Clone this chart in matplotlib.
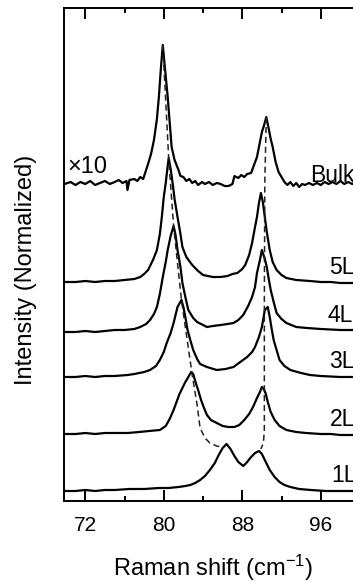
import numpy as np
import matplotlib
matplotlib.use("Agg")
from matplotlib import pyplot as plt
from matplotlib.ticker import MultipleLocator

plt.rcParams['font.family'] = ['Liberation Sans', 'DejaVu Sans']
plt.rcParams['mathtext.fontset'] = 'custom'
plt.rcParams['mathtext.rm'] = 'Liberation Sans'
plt.rcParams['mathtext.it'] = 'Liberation Sans:italic'

# spectra (heights in arbitrary units, x in cm-1)
names = ["1L", "2L", "3L", "4L", "5L", "Bulk"]
offsets = [0.10, 0.67, 1.24, 1.69, 2.19, 3.17]

x_1L = [69.9, 71, 72, 73, 74, 75, 76.5, 78, 79.5, 80.5, 81.5, 82.2, 82.7, 83.2, 83.7,
        84.2, 84.7, 85.2, 85.6, 86.0, 86.4, 86.8, 87.2, 87.6, 88.1, 88.5, 88.9, 89.3,
        89.7, 90.0, 90.4, 90.8, 91.3, 91.8, 92.3, 92.9, 93.8, 95, 96.5, 98, 100.5]
y_1L = [0, 0, 1, 0, 1, 1, 2, 2, 3, 3, 4, 5, 6, 8, 11,
        15, 21, 28, 36, 43, 47, 42, 35, 29, 25, 29, 34, 38,
        40, 37, 29, 21, 14, 9, 6, 4, 2, 1, 0, 0, 0]

x_2L = [69.9, 71, 72, 73, 74, 75, 76.3, 77.5, 78.5, 79.6, 80.2, 80.6, 81.0, 81.3, 81.6,
        81.9, 82.2, 82.5, 82.8, 83.0, 83.2, 83.5, 83.8, 84.1, 84.4, 84.8, 85.4, 86.0,
        86.6, 87.2, 87.7, 88.2, 88.7, 89.1, 89.5, 89.8, 90.0, 90.2, 90.4, 90.6, 90.9,
        91.3, 91.8, 92.5, 93.5, 94.5, 96, 97, 98, 100.5]
y_2L = [0, 0, 1, 0, 1, 1, 1, 2, 3, 4, 8, 15, 24, 32, 40,
        46, 52, 57, 62, 60, 53, 44, 34, 26, 19, 14, 11, 8,
        7, 7, 9, 14, 20, 27, 36, 42, 47, 45, 40, 32, 22,
        14, 8, 4, 2, 1, 0, 0, -1, -1]

x_3L = [69.9, 71, 72, 73, 74, 75, 76.3, 77, 78.0, 78.6, 79.2, 79.6, 80.0, 80.3, 80.7,
        81.0, 81.4, 81.8, 82.0, 82.2, 82.4, 82.7, 83.0, 83.4, 83.7, 84.4, 85.4, 86.3,
        87.1, 87.8, 88.5, 89.0, 89.3, 89.7, 90.0, 90.3, 90.6, 90.8, 91.0, 91.2, 91.5,
        91.8, 92.3, 92.9, 94.0, 94.9, 96, 98, 100.5]
y_3L = [0, 0, 1, 0, 1, 1, 2, 3, 5, 7, 11, 17, 25, 34, 44,
        54, 70, 77, 70, 60, 48, 37, 27, 18, 13, 10, 7, 8,
        10, 15, 20, 25, 30, 40, 50, 67, 70, 60, 48, 37, 27,
        17, 11, 7, 4, 2, 1, 0, 0]

x_4L = [69.9, 71, 72, 73, 74, 75, 76, 77, 77.6, 78.2, 78.6, 79.0, 79.3, 79.6, 79.9,
        80.2, 80.4, 80.7, 81.0, 81.2, 81.4, 81.7, 81.9, 82.2, 82.5, 83.0, 83.4, 84.0,
        84.4, 85.0, 85.8, 86.5, 87.1, 87.6, 88.1, 88.6, 89.0, 89.3, 89.5, 89.8, 90.0,
        90.3, 90.5, 90.7, 90.9, 91.2, 91.5, 92.0, 92.5, 93.5, 94.6, 96, 98, 100.5]
y_4L = [0, 0, 1, 0, 1, 2, 2, 3, 5, 8, 12, 18, 25, 38, 55,
        70, 82, 96, 106, 97, 82, 65, 49, 35, 22, 14, 10, 7,
        5, 6, 7, 8, 9, 12, 17, 26, 35, 45, 59, 72, 82,
        73, 65, 53, 42, 30, 19, 13, 9, 5, 4, 3, 2, 2]

x_5L = [69.9, 71, 72, 73, 74, 75, 76, 77, 77.6, 78.0, 78.4, 78.9, 79.3, 79.6, 79.8,
        80.0, 80.2, 80.35, 80.5, 80.7, 80.9, 81.1, 81.4, 81.7, 81.9, 82.3, 82.9, 83.5,
        84.0, 84.5, 85.0, 85.8, 86.5, 87.0, 87.5, 88.0, 88.3, 88.7, 89.0, 89.3, 89.5,
        89.7, 89.9, 90.1, 90.3, 90.5, 90.8, 91.1, 91.5, 92.0, 92.5, 93.5, 94.9, 96,
        97, 98, 99, 100.5]
y_5L = [0, 0, 1, 0, 1, 1, 2, 3, 5, 8, 12, 22, 32, 48, 65,
        85, 99, 112, 124, 113, 99, 83, 65, 48, 35, 25, 17, 11,
        7, 6, 5, 5, 6, 8, 9, 13, 17, 27, 39, 55, 65,
        79, 89, 80, 65, 50, 32, 20, 12, 7, 4, 2, 1, 0,
        0, -1, -1, -1]

x_bulk = [69.9, 70.5, 71.0, 71.5, 72.0, 72.5, 73.0, 73.5, 74.0, 74.5, 75.0, 75.4, 75.8,
          76.2, 76.3, 76.5, 77.0, 77.3, 77.6, 77.9, 78.0, 78.4, 78.7, 79.0, 79.3, 79.5,
          79.7, 79.9, 80.1, 80.4, 80.6, 80.8, 81.1, 81.5, 81.7, 82.0, 82.3, 82.6, 82.9,
          83.2, 83.5, 83.9, 84.2, 84.6, 85.0, 85.4, 85.8, 86.2, 86.6, 87.0, 87.2, 87.6,
          87.9, 88.2, 88.5, 88.9, 89.2, 89.5, 89.7, 90.0, 90.2, 90.45, 90.7, 90.9, 91.1,
          91.4, 91.7, 92.0, 92.3, 92.6, 92.9, 93.2, 93.5, 93.8, 94.1, 94.4, 94.8, 95.2,
          95.6, 96.0, 96.4, 96.8, 97.2, 97.6, 98.0, 98.4, 98.8, 99.2, 99.6, 100.5]
y_bulk = [0, 2, -1, 2, 0, 3, -1, 1, 3, 0, 2, 4, 1,
          3, -6, 4, 5, 3, 7, 5, 8, 20, 30, 44, 65, 87,
          115, 139, 118, 87, 62, 37, 24, 14, 8, 7, 3, 5, 1,
          3, -1, 2, 0, 2, -1, 1, 0, -2, -2, 0, 8, 6,
          9, 7, 10, 11, 19, 27, 37, 52, 58, 67, 55, 45, 37,
          22, 12, 7, 2, -1, 2, -2, 1, -3, 0, -1, 1, -1,
          1, -1, 2, 0, 2, 0, 3, 0, 2, 0, 2, 1]

spectra_x = [x_1L, x_2L, x_3L, x_4L, x_5L, x_bulk]
spectra_y = [y_1L, y_2L, y_3L, y_4L, y_5L, y_bulk]

# guide lines following the peak positions
guide1_x = [79.9, 80.5, 81.0, 81.8, 82.9, 83.4, 83.7, 84.2, 84.7, 85.4, 85.9]
guide1_y = [4.56, 3.43, 2.75, 2.01, 1.26, 0.96, 0.73, 0.63, 0.58, 0.55, 0.54]
guide2_x = [90.45, 90.3, 90.25, 90.25, 90.15, 89.9]
guide2_y = [3.84, 3.20, 2.00, 0.70, 0.58, 0.52]

fig = plt.figure(figsize=(3.53, 5.81), dpi=100)
ax = fig.add_axes([64 / 353, 80 / 581, 300.9 / 353, 493 / 581])

for xs, ys, off in zip(spectra_x, spectra_y, offsets):
    ax.plot(xs, off + np.array(ys) * 0.01, color='black', lw=1.6)

ax.plot(guide1_x, guide1_y, color='#222222', lw=1.1, dashes=(4, 2.5))
ax.plot(guide2_x, guide2_y, color='#222222', lw=1.1, dashes=(4, 2.5))

label_x = [97.1, 96.9, 96.9, 96.7, 96.9, 94.9]
label_y = [0.26, 0.81, 1.39, 1.86, 2.34, 3.26]
for name, lx, ly in zip(names, label_x, label_y):
    ax.text(lx, ly, name, fontsize=16.5, ha='left', va='center')
ax.text(70.13, 3.34, "\u00d710", fontsize=17, ha='left', va='center')

ax.set_xlim(69.83, 100.5)
ax.set_ylim(0, 4.93)
ax.xaxis.set_major_locator(MultipleLocator(8))
ax.xaxis.set_minor_locator(MultipleLocator(4))
ax.tick_params(axis='x', which='both', direction='in', top=True, bottom=True,
               width=1.4, labelsize=15, pad=11)
ax.tick_params(axis='x', which='major', length=8)
ax.tick_params(axis='x', which='minor', length=3.5)
ax.set_yticks([])
for s in ax.spines.values():
    s.set_linewidth(1.4)

ax.set_xlabel("Raman shift (cm$^{-1}$)", fontsize=17, va='baseline')
ax.xaxis.set_label_coords(0.495, -0.152)
ax.set_ylabel("Intensity (Normalized)", fontsize=17, va='center', ha='center')
ax.yaxis.set_label_coords(-0.126, 0.469)

fig.savefig("out.png", dpi=100)
